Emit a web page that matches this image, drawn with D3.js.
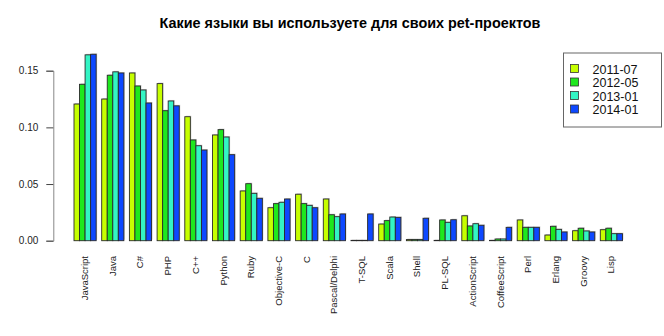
<!DOCTYPE html>
<html>
<head>
<meta charset="utf-8">
<script src="https://cdn.jsdelivr.net/npm/d3@7"></script>
<style>
  html, body { margin: 0; padding: 0; background: #fff; }
  svg { display: block; font-family: "Liberation Sans", Arial, sans-serif; }
</style>
</head>
<body>
<svg id="chart" width="664" height="336"></svg>
<script>
// Share of respondents using each language for pet projects, per survey wave
const languages = ["JavaScript", "Java", "C#", "PHP", "C++", "Python", "Ruby", "Objective-C", "C",
  "Pascal/Delphi", "T-SQL", "Scala", "Shell", "PL-SQL", "ActionScript", "CoffeeScript", "Perl",
  "Erlang", "Groovy", "Lisp"];
const waves = ["2011-07", "2012-05", "2013-01", "2014-01"];
const share2011_07 = [0.1206, 0.125, 0.148, 0.1386, 0.1094, 0.0933, 0.0439, 0.0291, 0.041,
  0.0368, 0.0003, 0.0147, 0.001, 0.0003, 0.022, 0.0003, 0.0183, 0.005, 0.0088, 0.0097];
const share2012_05 = [0.138, 0.146, 0.1365, 0.1147, 0.0889, 0.098, 0.0503, 0.0327, 0.0327,
  0.0229, 0.0003, 0.0177, 0.001, 0.0183, 0.013, 0.0015, 0.0118, 0.0127, 0.011, 0.011];
const share2013_01 = [0.164, 0.149, 0.133, 0.1233, 0.0838, 0.0915, 0.0418, 0.0339, 0.0312,
  0.0212, 0.0003, 0.0209, 0.001, 0.0162, 0.015, 0.0015, 0.0118, 0.010, 0.0086, 0.0062];
const share2014_01 = [0.1645, 0.148, 0.1215, 0.119, 0.080, 0.0759, 0.0374, 0.0368, 0.0291,
  0.0236, 0.0236, 0.0206, 0.0198, 0.0185, 0.0136, 0.0118, 0.0118, 0.0077, 0.0077, 0.0062];
const yTicks = [0.00, 0.05, 0.10, 0.15];
const waveColors = ["#c6ff00", "#1ee81e", "#33f5c4", "#0d48ff"];

const series = [share2011_07, share2012_05, share2013_01, share2014_01];
const rows = languages.map((lang, i) => ({
  lang,
  values: waves.map((w, k) => ({ wave: w, value: series[k][i] }))
}));

const svg = d3.select("#chart");

const x0 = d3.scaleBand().domain(languages).range([68.46, 628.0])
  .paddingInner(0.2).paddingOuter(0.2);
const x1 = d3.scaleBand().domain(waves).range([0, x0.bandwidth()]).padding(0);
const y = d3.scaleLinear().domain([0, 0.15]).range([240.7, 70.7]);
const color = d3.scaleOrdinal().domain(waves).range(waveColors);

// Title
svg.append("text")
  .attr("x", 350).attr("y", 28)
  .attr("text-anchor", "middle")
  .attr("font-weight", "bold")
  .attr("font-size", 14.4)
  .attr("fill", "#000")
  .text("Какие языки вы используете для своих pet-проектов");

// Grouped bars
const groups = svg.append("g").selectAll("g")
  .data(rows)
  .join("g")
  .attr("transform", d => `translate(${x0(d.lang)},0)`);

// soft grey halo behind each bar
groups.selectAll("rect.halo")
  .data(d => d.values)
  .join("rect")
  .attr("class", "halo")
  .attr("x", d => x1(d.wave) + 1)
  .attr("y", d => y(d.value) - 1)
  .attr("width", x1.bandwidth())
  .attr("height", d => y(0) - y(d.value))
  .attr("fill", "#b0b0b0")
  .attr("opacity", 0.6);

groups.selectAll("rect.bar")
  .data(d => d.values)
  .join("rect")
  .attr("class", "bar")
  .attr("x", d => x1(d.wave))
  .attr("y", d => y(d.value))
  .attr("width", x1.bandwidth())
  .attr("height", d => y(0) - y(d.value))
  .attr("fill", d => color(d.wave))
  .attr("stroke", "#2a2a2a")
  .attr("stroke-width", 0.9);

// Y axis
const yAxis = svg.append("g")
  .attr("transform", "translate(53.3,0)")
  .call(d3.axisLeft(y).tickValues(yTicks).tickFormat(d3.format(".2f")).tickSizeOuter(0).tickSize(7));
yAxis.select(".domain").attr("stroke", "#888");
yAxis.selectAll(".tick line").attr("stroke", "#444");
yAxis.selectAll(".tick text")
  .attr("font-size", 10)
  .attr("font-family", "Liberation Sans, Arial, sans-serif")
  .attr("fill", "#222")
  .attr("x", -15);

// Category labels, rotated
svg.append("g").selectAll("text")
  .data(languages)
  .join("text")
  .attr("transform", d => `translate(${x0(d) + x0.bandwidth() / 2 + 3},256) rotate(-90)`)
  .attr("text-anchor", "end")
  .attr("font-size", 9.5)
  .attr("fill", "#222")
  .text(d => d);

// Legend
const legend = svg.append("g").attr("transform", "translate(563.5,53)");
legend.append("rect")
  .attr("width", 98).attr("height", 74)
  .attr("fill", "#fff").attr("stroke", "#666").attr("stroke-width", 1);
const items = legend.selectAll("g.item")
  .data(waves)
  .join("g")
  .attr("class", "item")
  .attr("transform", (d, i) => `translate(0,${16 + i * 13.5})`);
items.append("rect")
  .attr("x", 7).attr("y", -4.5).attr("width", 8).attr("height", 8)
  .attr("fill", d => color(d)).attr("stroke", "#333").attr("stroke-width", 0.8);
items.append("text")
  .attr("x", 29).attr("y", 4.5)
  .attr("font-size", 12.5)
  .attr("fill", "#111")
  .text(d => d);
</script>
</body>
</html>
